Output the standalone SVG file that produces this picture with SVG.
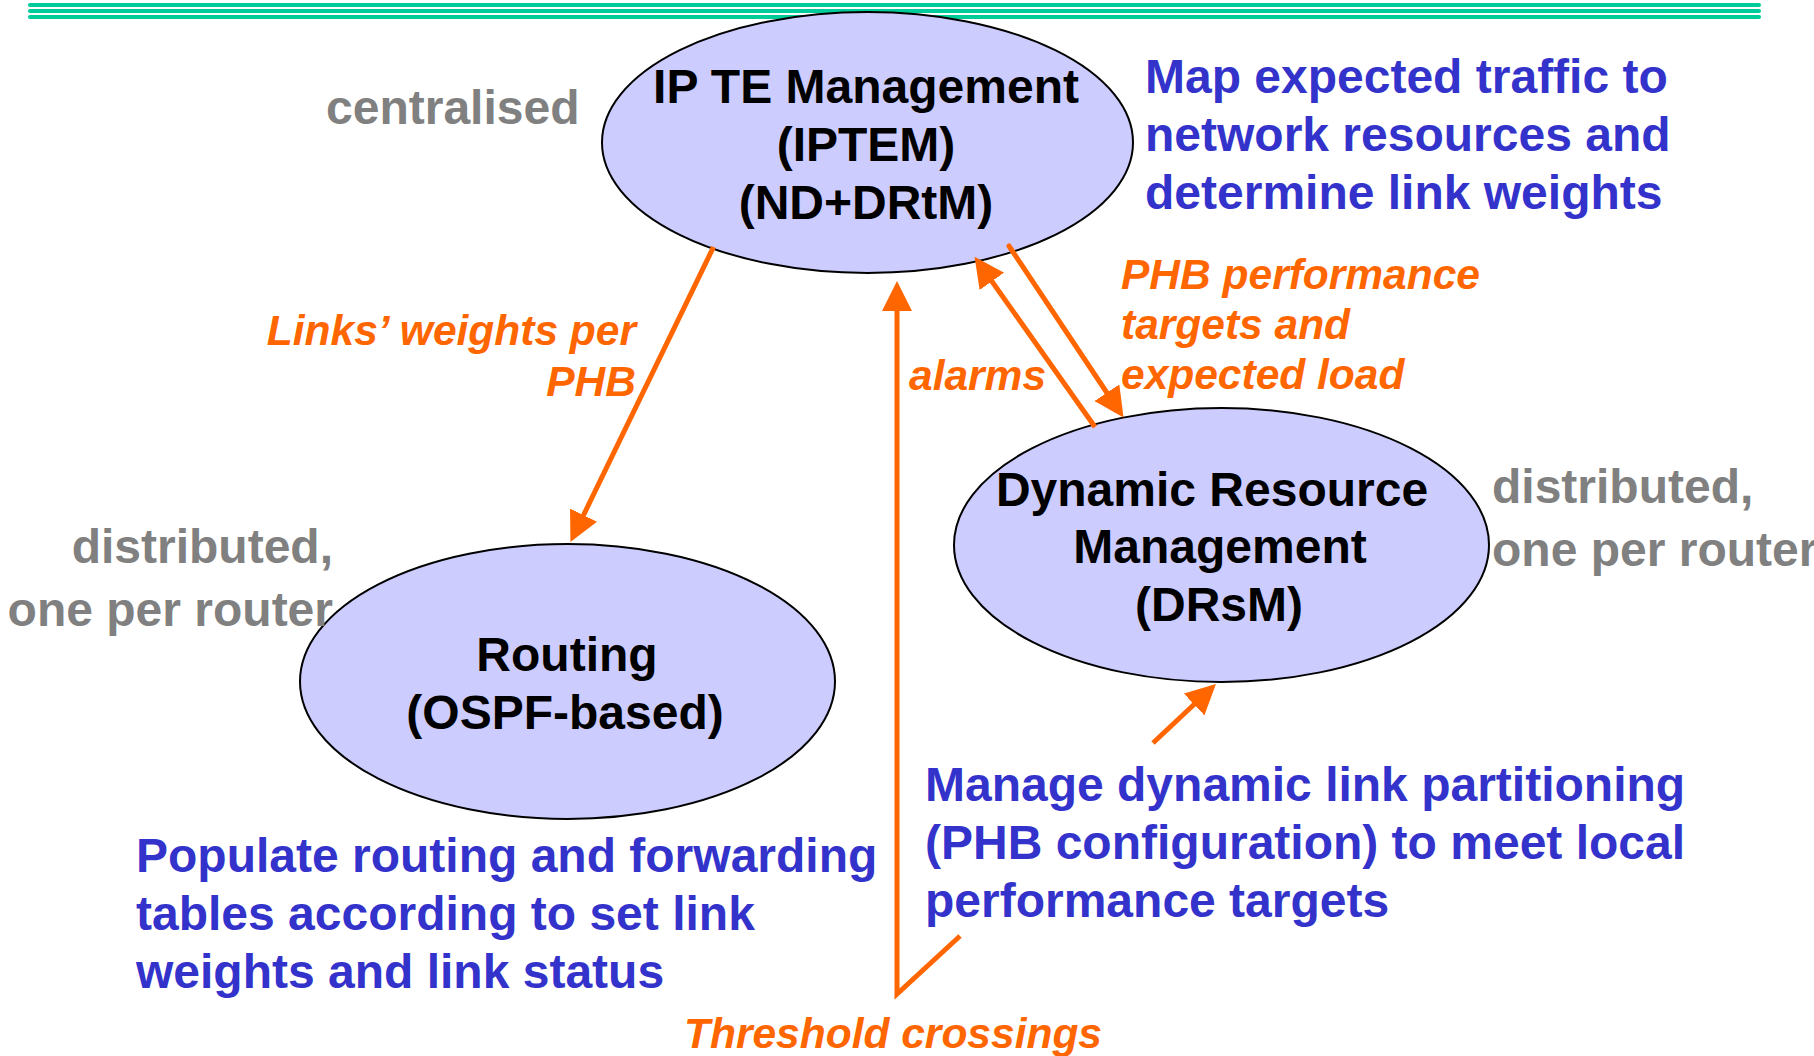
<svg xmlns="http://www.w3.org/2000/svg" width="1814" height="1056" viewBox="0 0 1814 1056">
<style>
  text { font-family: "Liberation Sans", Arial, Helvetica, sans-serif; font-weight: bold; }
  .node { fill: #CCCCFF; stroke: #000000; stroke-width: 2; }
  .nt { font-size: 48px; fill: #000000; text-anchor: middle; }
  .gray { font-size: 48px; fill: #808080; }
  .blue { font-size: 48px; fill: #3333CC; }
  .lbl { font-size: 42.5px; fill: #FF6600; font-style: italic; }
  .conn { fill: none; stroke: #FF6600; stroke-width: 5; }
  .rule { stroke: #00CC99; stroke-width: 4; stroke-linecap: round; }
</style>
<defs>
  <marker id="arr" markerUnits="userSpaceOnUse" markerWidth="32" markerHeight="32" refX="1" refY="15" orient="auto">
    <path d="M0,0 L30,15 L0,30 z" fill="#FF6600"/>
  </marker>
</defs>
<rect width="1814" height="1056" fill="#FFFFFF"/>
<g id="top-rule">
  <line class="rule" x1="30" y1="5" x2="1759" y2="5"/>
  <line class="rule" x1="30" y1="11" x2="1759" y2="11"/>
  <line class="rule" x1="30" y1="17" x2="1759" y2="17"/>
</g>
<g id="node-iptem">
  <ellipse class="node" cx="867.5" cy="142.5" rx="265.5" ry="130.5"/>
  <text class="nt" x="866" y="103">IP TE Management</text>
  <text class="nt" x="866" y="161">(IPTEM)</text>
  <text class="nt" x="866" y="219">(ND+DRtM)</text>
</g>
<g id="node-routing">
  <ellipse class="node" cx="567.5" cy="681.5" rx="267.5" ry="137.5"/>
  <text class="nt" x="567" y="671">Routing</text>
  <text class="nt" x="565" y="729">(OSPF-based)</text>
</g>
<g id="node-drsm">
  <ellipse class="node" cx="1221.5" cy="545" rx="267.5" ry="137"/>
  <text class="nt" x="1212" y="506">Dynamic Resource</text>
  <text class="nt" x="1220" y="563">Management</text>
  <text class="nt" x="1219" y="621">(DRsM)</text>
</g>
<g id="connectors">
  <path class="conn" d="M713.5,247 L583.1,516" marker-end="url(#arr)"/>
  <path class="conn" d="M960,936 L897,994 L897,310" marker-end="url(#arr)"/>
  <path class="conn" d="M1095,427 L991.3,280.5" marker-end="url(#arr)"/>
  <path class="conn" d="M1009,246 L1107.4,393.5" stroke-linecap="round" marker-end="url(#arr)"/>
  <path class="conn" d="M1153,743 L1194.8,703.8" marker-end="url(#arr)"/>
</g>
<g id="labels">
  <text class="gray" x="326" y="124">centralised</text>
  <text class="gray" x="333" y="563" text-anchor="end">distributed,</text>
  <text class="gray" x="333" y="626" text-anchor="end">one per router</text>
  <text class="gray" x="1492" y="503">distributed,</text>
  <text class="gray" x="1492" y="566">one per router</text>
  <text class="blue" x="1145" y="93">Map expected traffic to</text>
  <text class="blue" x="1145" y="151">network resources and</text>
  <text class="blue" x="1145" y="209">determine link weights</text>
  <text class="blue" x="136" y="872">Populate routing and forwarding</text>
  <text class="blue" x="136" y="930">tables according to set link</text>
  <text class="blue" x="136" y="988">weights and link status</text>
  <text class="blue" x="925" y="801">Manage dynamic link partitioning</text>
  <text class="blue" x="925" y="859">(PHB configuration) to meet local</text>
  <text class="blue" x="925" y="917">performance targets</text>
  <text class="lbl" x="636" y="345" text-anchor="end">Links’ weights per</text>
  <text class="lbl" x="636" y="396" text-anchor="end">PHB</text>
  <text class="lbl" x="909" y="390">alarms</text>
  <text class="lbl" x="1121" y="289">PHB performance</text>
  <text class="lbl" x="1121" y="339">targets and</text>
  <text class="lbl" x="1121" y="389">expected load</text>
  <text class="lbl" x="684" y="1048">Threshold crossings</text>
</g>
</svg>
